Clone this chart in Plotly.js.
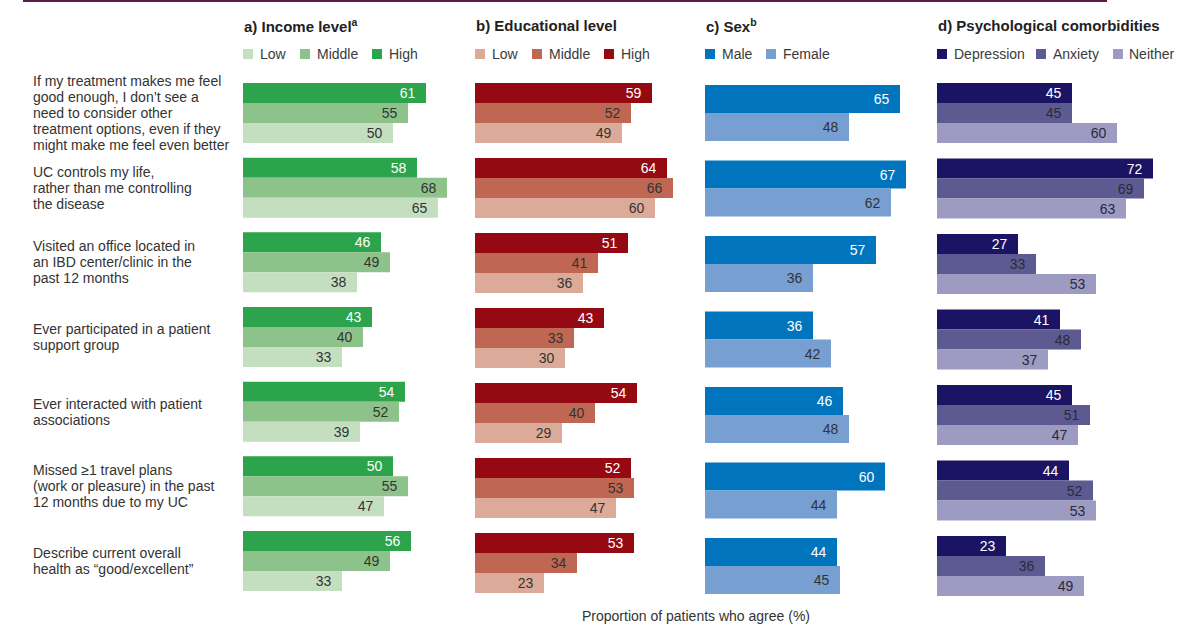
<!DOCTYPE html>
<html>
<head>
<meta charset="utf-8">
<script src="https://cdn.plot.ly/plotly-3.0.1.min.js"></script>
<style>html,body{margin:0;padding:0;background:#fff;}#chart{width:1204px;height:626px;}</style>
</head>
<body>
<div id="chart"></div>
<script>
// ---------------- data ----------------
const categories = [
  "If my treatment makes me feel<br>good enough, I don’t see a<br>need to consider other<br>treatment options, even if they<br>might make me feel even better",
  "UC controls my life,<br>rather than me controlling<br>the disease",
  "Visited an office located in<br>an IBD center/clinic in the<br>past 12 months",
  "Ever participated in a patient<br>support group",
  "Ever interacted with patient<br>associations",
  "Missed ≥1 travel plans<br>(work or pleasure) in the past<br>12 months due to my UC",
  "Describe current overall<br>health as “good/excellent”"
];
const panelTitles = ["a) Income level<sup>a</sup>", "b) Educational level", "c) Sex<sup>b</sup>", "d) Psychological comorbidities"];
const axisTitle = "Proportion of patients who agree (%)";

const incomeNames = ["High", "Middle", "Low"];
const incomeHigh   = [61, 58, 46, 43, 54, 50, 56];
const incomeMiddle = [55, 68, 49, 40, 52, 55, 49];
const incomeLow    = [50, 65, 38, 33, 39, 47, 33];

const eduNames = ["High", "Middle", "Low"];
const eduHigh   = [59, 64, 51, 43, 54, 52, 53];
const eduMiddle = [52, 66, 41, 33, 40, 53, 34];
const eduLow    = [49, 60, 36, 30, 29, 47, 23];

const sexNames = ["Male", "Female"];
const sexMale   = [65, 67, 57, 36, 46, 60, 44];
const sexFemale = [48, 62, 36, 42, 48, 44, 45];

const psyNames = ["Depression", "Anxiety", "Neither"];
const psyDepression = [45, 72, 27, 41, 45, 44, 23];
const psyAnxiety    = [45, 69, 33, 48, 51, 52, 36];
const psyNeither    = [60, 63, 53, 37, 47, 53, 49];

// ---------------- layout helpers ----------------
const W = 1204, H = 626;
const FONT = "Liberation Sans, Arial, Helvetica, sans-serif";
const px = x => x / W;
const py = y => 1 - y / H;

const panels = [
  {x0: 243, top: 75.67, bottom: 598.33, thick: 20,
   series: [incomeHigh, incomeMiddle, incomeLow], names: incomeNames,
   colors: ["#2ca44b", "#8dc28a", "#c4dfc0"], textColors: ["#ffffff", "#333333", "#333333"],
   legendOrder: [2, 1, 0], legSq: [243, 300, 372], legTx: [259, 316, 388]},
  {x0: 475, top: 75.5, bottom: 600.5, thick: 20,
   series: [eduHigh, eduMiddle, eduLow], names: eduNames,
   colors: ["#950912", "#bf6752", "#dcaa98"], textColors: ["#ffffff", "#333333", "#333333"],
   legendOrder: [2, 1, 0], legSq: [475, 532, 604], legTx: [491, 548, 620]},
  {x0: 705, top: 75.25, bottom: 603.75, thick: 28,
   series: [sexMale, sexFemale], names: sexNames,
   colors: ["#0075bd", "#779fd2"], textColors: ["#ffffff", "#333333"],
   legendOrder: [0, 1], legSq: [705, 766], legTx: [721, 782]},
  {x0: 937, top: 75.25, bottom: 603.75, thick: 20,
   series: [psyDepression, psyAnxiety, psyNeither], names: psyNames,
   colors: ["#1b1464", "#5d5a92", "#9d9bc2"], textColors: ["#ffffff", "#2a2a3a", "#2a2a3a"],
   legendOrder: [0, 1, 2], legSq: [937, 1036, 1113], legTx: [953, 1052, 1128]}
];
const PANEL_W = 225, XMAX = 75;

const traces = [];
const layout = {
  width: W, height: H,
  margin: {l: 0, r: 0, t: 0, b: 0, pad: 0},
  paper_bgcolor: "#ffffff", plot_bgcolor: "rgba(0,0,0,0)",
  font: {family: FONT, size: 14, color: "#333333"},
  showlegend: false,
  barmode: "overlay",
  shapes: [], annotations: []
};

panels.forEach((p, i) => {
  const k = i === 0 ? "" : String(i + 1);
  const pitch = (p.bottom - p.top) / categories.length;
  const w = p.thick / pitch;
  const n = p.series.length;
  layout["xaxis" + k] = {
    domain: [px(p.x0), px(p.x0 + PANEL_W)], range: [0, XMAX],
    anchor: "y" + k, visible: false, fixedrange: true
  };
  layout["yaxis" + k] = {
    domain: [py(p.bottom), py(p.top)], type: "category",
    categoryorder: "array", categoryarray: categories,
    range: [categories.length - 0.5, -0.5],
    anchor: "x" + k, visible: false, fixedrange: true
  };
  p.series.forEach((vals, j) => {
    traces.push({
      type: "bar", orientation: "h",
      x: vals, y: categories,
      xaxis: "x" + k, yaxis: "y" + k,
      name: p.names[j],
      width: w, offset: -n * w / 2 + j * w,
      marker: {color: p.colors[j], line: {width: 0}},
      texttemplate: "%{x}\u00a0\u00a0",
      textposition: "inside", insidetextanchor: "end",
      textangle: 0, constraintext: "none",
      insidetextfont: {family: FONT, size: 14, color: p.textColors[j]},
      hoverinfo: "skip"
    });
  });
  // panel title
  layout.annotations.push({
    xref: "paper", yref: "paper", x: px(p.x0 - 1), y: py(25),
    xanchor: "left", yanchor: "middle", showarrow: false,
    text: "<b>" + panelTitles[i] + "</b>",
    font: {family: FONT, size: 15, color: "#222222"}
  });
  // legend
  p.legendOrder.forEach((j, m) => {
    layout.shapes.push({
      type: "rect", xref: "paper", yref: "paper",
      x0: px(p.legSq[m]), x1: px(p.legSq[m] + 10), y0: py(59), y1: py(49),
      fillcolor: p.colors[j], line: {width: 0}
    });
    layout.annotations.push({
      xref: "paper", yref: "paper", x: px(p.legTx[m] - 1), y: py(54),
      xanchor: "left", yanchor: "middle", showarrow: false,
      text: p.names[j], font: {family: FONT, size: 14, color: "#3a3a3a"}
    });
  });
});

// category labels (one annotation per line, left aligned)
const LINE_H = 16;
categories.forEach(c => {
  const lines = c.split("<br>");
  const mid = (lines.length - 1) / 2;
  lines.forEach((ln, li) => {
    layout.annotations.push({
      xref: "paper", yref: "y", x: px(31), y: c,
      xanchor: "left", yanchor: "middle", showarrow: false,
      yshift: (mid - li) * LINE_H,
      text: ln, font: {family: FONT, size: 14, color: "#333333"}
    });
  });
});

// common x axis title
layout.annotations.push({
  xref: "paper", yref: "paper", x: px(695.5), y: py(616),
  xanchor: "center", yanchor: "middle", showarrow: false,
  text: axisTitle, font: {family: FONT, size: 14, color: "#333333"}
});

// top rule
layout.shapes.push({
  type: "line", xref: "paper", yref: "paper",
  x0: px(23), x1: px(1107), y0: py(1), y1: py(1),
  line: {color: "#5b1a4b", width: 2}
});

Plotly.newPlot("chart", traces, layout, {staticPlot: true, displayModeBar: false});
</script>
</body>
</html>
